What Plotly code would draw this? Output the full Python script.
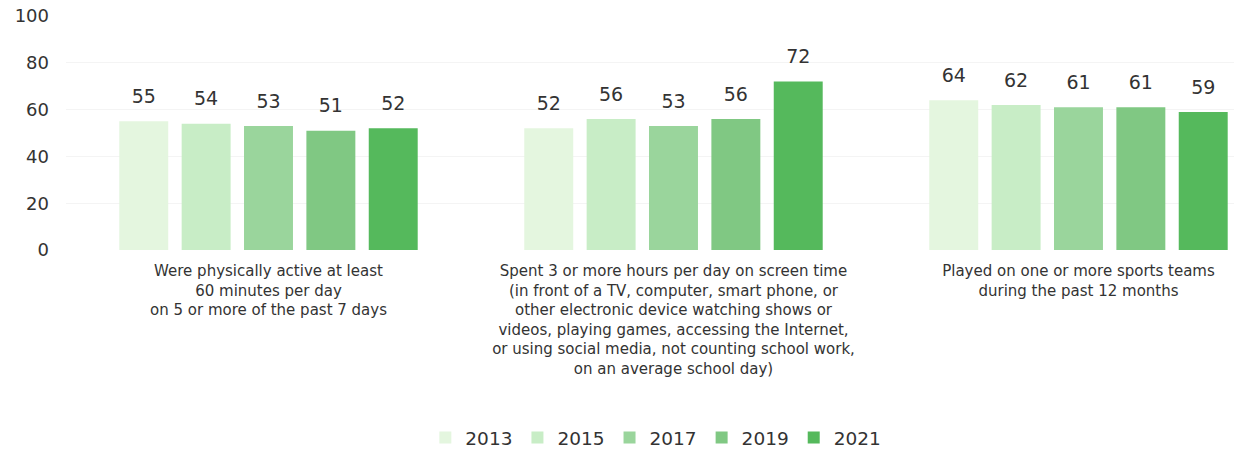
import plotly.graph_objects as go

categories = [
    "Were physically active at least<br>60 minutes per day<br>on 5 or more of the past 7 days",
    "Spent 3 or more hours per day on screen time<br>(in front of a TV, computer, smart phone, or<br>other electronic device watching shows or<br>videos, playing games, accessing the Internet,<br>or using social media, not counting school work,<br>on an average school day)",
    "Played on one or more sports teams<br>during the past 12 months",
]
years = ["2013", "2015", "2017", "2019", "2021"]
values = {
    "2013": [55, 52, 64],
    "2015": [54, 56, 62],
    "2017": [53, 53, 61],
    "2019": [51, 56, 61],
    "2021": [52, 72, 59],
}
colors = ["#e4f6df", "#c8edc6", "#9ad59c", "#80c883", "#55b95c"]
tick_vals = [0, 20, 40, 60, 80, 100]

FONT = "DejaVu Sans"
TXT = "#333333"

fig = go.Figure()
for y, c in zip(years, colors):
    fig.add_trace(go.Bar(
        name=y, x=categories, y=values[y], marker_color=c,
        offsetgroup=y, marker_line_width=0,
    ))
for y in years:
    fig.add_trace(go.Scatter(
        x=categories, y=values[y], text=[str(v) for v in values[y]],
        mode="markers+text", textposition="top center",
        marker=dict(size=20, opacity=0), offsetgroup=y,
        textfont=dict(family=FONT, size=19, color=TXT),
        showlegend=False, hoverinfo="skip", cliponaxis=False,
    ))

fig.update_layout(
    width=1234, height=451,
    barmode="group", bargap=0.23, bargroupgap=0.215,
    scattermode="group", scattergap=0.23,
    plot_bgcolor="white", paper_bgcolor="white",
    margin=dict(l=66, r=0, t=16, b=201),
    font=dict(family=FONT, color=TXT),
    showlegend=True,
    legend=dict(orientation="h", x=0.505, xanchor="center",
                yref="container", y=(451 - 438) / 451, yanchor="middle",
                font=dict(family=FONT, size=18.5, color=TXT)),
)
fig.update_yaxes(range=[0, 100], tickvals=tick_vals, showgrid=True, gridcolor="#f4f4f4",
                 zeroline=False, showline=False, ticklabelstandoff=16, automargin=False,
                 tickfont=dict(family=FONT, size=18, color=TXT))
fig.update_xaxes(range=[-0.5, 2.384], showline=False, showgrid=False, ticks="",
                 tickfont=dict(family=FONT, size=15, color=TXT), tickangle=0,
                 ticklabelstandoff=10, automargin=False)

fig.write_html("out.html", config={"displayModeBar": False},
               post_script="document.body.style.margin='0';")
